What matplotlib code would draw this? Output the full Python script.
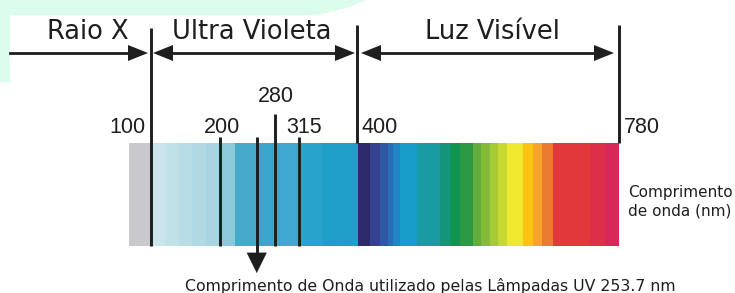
import matplotlib
matplotlib.use("Agg")
import matplotlib.pyplot as plt
from matplotlib.patches import Polygon

# ---------------- data ----------------
region_labels = ["Raio X", "Ultra Violeta", "Luz Visível"]
marker_nm = [100, 200, 280, 315, 400, 780]
marker_labels = ["100", "200", "280", "315", "400", "780"]
lamp_nm = 253.7
lamp_label = "Comprimento de Onda utilizado pelas Lâmpadas UV 253.7 nm"
axis_label = "Comprimento\nde onda (nm)"

# spectrum band edges (nm) and their colours
band_edges = [68, 100, 120, 140, 160, 180, 200, 222, 256, 278, 314, 350, 401,
              418, 433, 445, 452, 462, 487, 520, 535, 549, 568, 580, 593, 605,
              617, 641, 655, 668, 684, 738, 760, 780]
band_colors = ["#c9c9cd",
               "#cae5ec", "#c1e1e9", "#b9dde7", "#b1d9e4", "#a9d5e2",
               "#8ccadb", "#48aacb", "#3ba6cb", "#40a8cf", "#28a3cc", "#1f9ec8",
               "#2b2a6a", "#35408f", "#2f57a3", "#2a6db3", "#1e84c4", "#189cc9",
               "#1a9aa3", "#139677", "#0f9452", "#2c9a45", "#62ad3c", "#86bb39",
               "#a6c936", "#c8d832", "#efe82e", "#fcc30f", "#f6a52c", "#ec7a2f",
               "#e2383a", "#dd2f48", "#d8285a"]

# ---------------- layout ----------------
W, H = 735, 293
fig = plt.figure(figsize=(W / 100, H / 100), dpi=100)

# pixel overlay axes (decorations)
px = fig.add_axes([0, 0, 1, 1])
px.set_xlim(0, W)
px.set_ylim(H, 0)
px.axis("off")

# wavelength axes: x in nm, y in pixels from top
x0_px, nm_per_px = 151, 1 / 0.688
ax = fig.add_axes([0, 0, 1, 1])
ax.set_xlim(100 - x0_px * nm_per_px, 100 + (W - x0_px) * nm_per_px)
ax.set_ylim(H, 0)
ax.axis("off")
ax.patch.set_alpha(0)

# green background shape
px.add_patch(Polygon([(0, 0), (366, 0), (350, 7), (318, 15), (10, 15), (10, 82), (0, 82)],
                     closed=True, fc="#dbfcea", ec="none", zorder=0))

# spectrum bands
bar_top, bar_bot = 143, 246
lefts = band_edges[:-1]
widths = [b - a for a, b in zip(band_edges[:-1], band_edges[1:])]
ax.bar(lefts, [bar_bot - bar_top] * len(lefts), width=widths, bottom=bar_top,
       align="edge", color=band_colors, edgecolor="none", zorder=1)

# marker lines
line_tops = [28, 137, 114, 137, 25, 25]
line_bots = [246, 246, 246, 246, bar_top, bar_top]
lc = "#1e1e1e"
for v, t, b in zip(marker_nm, line_tops, line_bots):
    ax.plot([v, v], [t, b], color=lc, lw=2.1, solid_capstyle="butt", zorder=3)

# number labels
lab_off = {"100": (-24, 0, "center"), "200": (2, 0, "center"), "280": (1, -31, "center"),
           "315": (5, 0, "center"), "400": (4, 0, "left"), "780": (5, 0, "left")}
for v, s in zip(marker_nm, marker_labels):
    dx, dy, ha = lab_off[s]
    ax.annotate(s, xy=(v, 133), xytext=(dx, -dy), textcoords="offset pixels",
                ha=ha, va="baseline", fontsize=15.5, family="Liberation Sans",
                color="#1e1e1e", zorder=4)

# lamp arrow (253.7 nm)
ax.plot([lamp_nm, lamp_nm], [137, 254], color=lc, lw=2.1, solid_capstyle="butt", zorder=3)
ax.annotate("", xy=(lamp_nm, 273), xytext=(lamp_nm, 252),
            arrowprops=dict(arrowstyle="-|>,head_length=1.45,head_width=0.72",
                            color=lc, lw=0.1, shrinkA=0, shrinkB=0), zorder=4)

# top region arrows (pixel overlay)
def head(x_tip, y, direction):
    L, h = 20, 8
    return Polygon([(x_tip, y), (x_tip - direction * L, y - h), (x_tip - direction * L, y + h)],
                   closed=True, fc=lc, ec="none", zorder=4)

ya = 53
px.plot([10, 132], [ya, ya], color=lc, lw=2, zorder=3)
px.add_patch(head(148, ya, 1))
px.plot([168, 340], [ya, ya], color=lc, lw=2, zorder=3)
px.add_patch(head(153, ya, -1))
px.add_patch(head(355, ya, 1))
px.plot([376, 598], [ya, ya], color=lc, lw=2, zorder=3)
px.add_patch(head(361, ya, -1))
px.add_patch(head(614, ya, 1))

# region labels
for s, xc in zip(region_labels, [88, 252, 492]):
    px.text(xc, 39, s, ha="center", va="baseline", fontsize=18.5,
            family="DejaVu Sans", color="#1e1e1e", zorder=5)

# axis caption & lamp caption
px.text(628, 197, axis_label.split("\n")[0], ha="left", va="baseline", fontsize=11,
        family="DejaVu Sans", color="#1e1e1e")
px.text(628, 216, axis_label.split("\n")[1], ha="left", va="baseline", fontsize=11,
        family="DejaVu Sans", color="#1e1e1e")
px.text(430, 291, lamp_label, ha="center", va="baseline", fontsize=11.3,
        family="DejaVu Sans", color="#1e1e1e")

fig.savefig("out.png", dpi=100)
